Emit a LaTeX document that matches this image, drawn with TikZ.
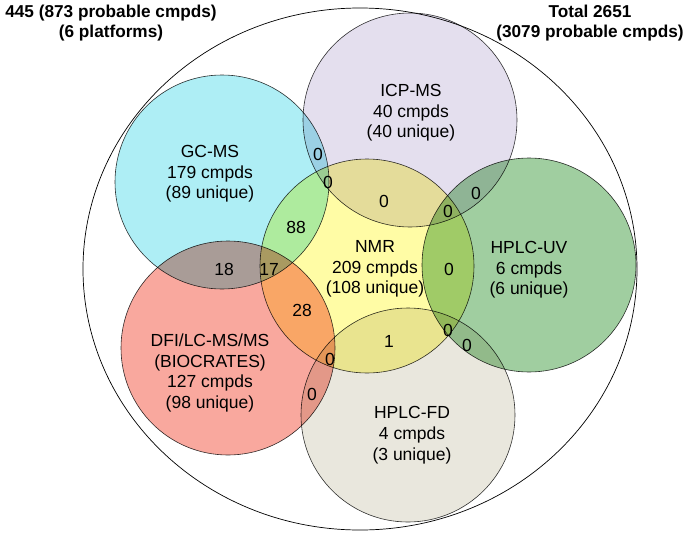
\documentclass[tikz,border=0pt]{standalone}
\usepackage{fontspec}
\setmainfont{Liberation Sans}
\usepackage{tikz}
\usetikzlibrary{positioning, shapes}

\definecolor{gccol}{RGB}{174,238,245}
\definecolor{icpcol}{RGB}{228,223,238}
\definecolor{nmrcol}{RGB}{255,252,165}
\definecolor{uvcol}{RGB}{160,206,160}
\definecolor{dficol}{RGB}{249,168,158}
\definecolor{fdcol}{RGB}{233,231,221}

\tikzset{
  venn/.style={circle, draw=black!80, line width=0.6pt, minimum size=214pt, inner sep=0pt, outer sep=0pt},
  lbl/.style={align=center, font=\fontsize{17.5}{20.7}\selectfont},
  num/.style={font=\fontsize{17.5}{20.7}\selectfont, inner sep=1pt},
  head/.style={align=center, font=\fontsize{17.2}{20}\selectfont\bfseries}
}

\begin{document}
\begin{tikzpicture}[x=1pt, y=-1pt]
\useasboundingbox (0,0) rectangle (688,536);

\node[ellipse, draw, line width=0.7pt, minimum width=554pt, minimum height=522pt, inner sep=0pt] (total) at (360,269) {};

\begin{scope}[blend mode=multiply]
  \node[venn, fill=gccol] (gc) at (222,182) {};
  \node[venn, fill=icpcol] (icp) at (410,120) {};
  \node[venn, fill=nmrcol] (nmr) at (367,266) {};
  \node[venn, fill=uvcol] (uv) at (529,265) {};
  \node[venn, fill=dficol] (dfi) at (228,348) {};
  \node[venn, fill=fdcol] (fd) at (408,415) {};
\end{scope}

% platform labels
\node[lbl] (gclbl) at (210,174) {GC-MS\\179 cmpds\\(89 unique)};
\node[lbl] (icplbl) at (411,113) {ICP-MS\\40 cmpds\\(40 unique)};
\node[lbl] (nmrlbl) at (375,269) {NMR\\209 cmpds\\(108 unique)};
\node[lbl] (uvlbl) at (529,270) {HPLC-UV\\6 cmpds\\(6 unique)};
\node[lbl] (dfilbl) at (210,373) {DFI/LC-MS/MS\\(BIOCRATES)\\127 cmpds\\(98 unique)};
\node[lbl] (fdlbl) at (412,435) {HPLC-FD\\4 cmpds\\(3 unique)};

% overlap counts
\node[num] (gcicp) at (318,154) {0};
\node[num] (gcicpnmr) at (328,182) {0};
\node[num] (gcnmr) at (296,227) {88};
\node[num] (icpnmr) at (384,201) {0};
\node[num] (icpuv) at (476,193) {0};
\node[num] (icpnmruv) at (448,211) {0};
\node[num] (nmruv) at (449,269) {0};
\node[num] (gcdfi) at (224,269) {18};
\node[num] (gcdfinmr) at (269,269) {17};
\node[num] (dfinmr) at (302,310) {28};
\node[num] (dfinmrfd) at (330,359) {0};
\node[num] (dfifd) at (312,394) {0};
\node[num] (nmrfd) at (389,341) {1};
\node[num] (nmruvfd) at (448,330) {0};
\node[num] (uvfd) at (467,345) {0};

% totals
\node[head] (platforms) at (111,23) {445 (873 probable cmpds)\\(6 platforms)};
\node[head] (grand) at (590,23) {Total 2651\\(3079 probable cmpds)};
\end{tikzpicture}
\end{document}
